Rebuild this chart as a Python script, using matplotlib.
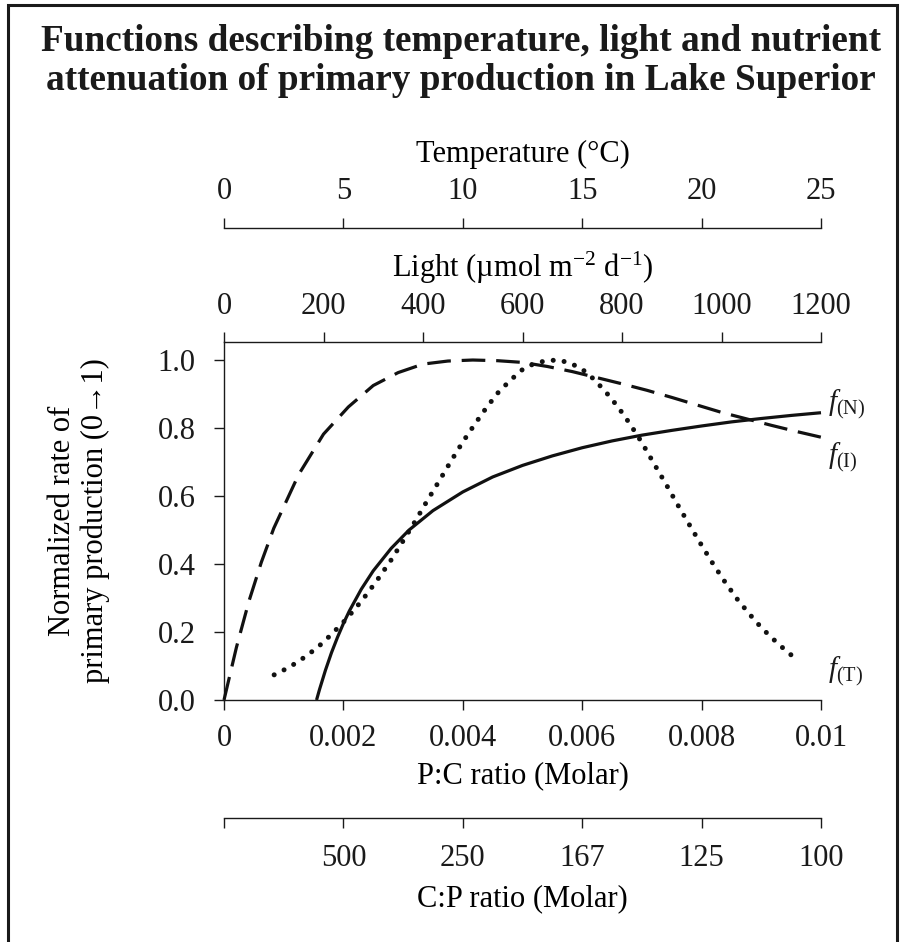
import matplotlib
matplotlib.use("Agg")
import matplotlib.pyplot as plt
from matplotlib.patches import Rectangle

plt.rcParams['font.family'] = ['Liberation Serif', 'DejaVu Serif']
plt.rcParams['font.size'] = 22
plt.rcParams['mathtext.fontset'] = 'custom'
plt.rcParams['mathtext.rm'] = 'Liberation Serif'
plt.rcParams['mathtext.it'] = 'Liberation Serif:italic'

# ---- data -------------------------------------------------------------
# nutrient limitation vs cell P:C quota (molar)
pc_ratio = [0.00155, 0.0016, 0.0017, 0.0018, 0.0019, 0.0020, 0.0021, 0.0023,
            0.0025, 0.0028, 0.0031, 0.0035, 0.0040, 0.0045, 0.0050, 0.0055,
            0.0060, 0.0065, 0.0070, 0.0075, 0.0080, 0.0085, 0.0090, 0.0095,
            0.0100]
f_nutrient = [0.000, 0.031, 0.088, 0.139, 0.184, 0.225, 0.262, 0.326,
              0.380, 0.446, 0.500, 0.557, 0.612, 0.656, 0.690, 0.718,
              0.742, 0.762, 0.779, 0.793, 0.806, 0.818, 0.828, 0.837,
              0.845]

# light limitation vs irradiance (umol m-2 d-1)
light = [0, 25, 50, 75, 100, 150, 200, 250, 300, 350, 400, 450, 500, 550,
         600, 650, 700, 750, 800, 850, 900, 950, 1000, 1050, 1100, 1150, 1200]
f_light = [0.000, 0.155, 0.290, 0.405, 0.505, 0.663, 0.782, 0.862, 0.925,
           0.963, 0.988, 0.997, 1.000, 0.998, 0.993, 0.981, 0.966, 0.948,
           0.930, 0.911, 0.890, 0.868, 0.846, 0.827, 0.808, 0.790, 0.773]

# temperature limitation vs water temperature (deg C)
temperature = [2.1, 2.5, 3.0, 3.5, 4.0, 4.5, 5.0, 5.5, 6.0, 6.5, 7.0, 7.5,
               8.0, 8.5, 9.0, 9.5, 10.0, 10.5, 11.0, 11.5, 12.0, 12.5, 13.0,
               13.5, 14.0, 14.5, 15.0, 15.5, 16.0, 16.5, 17.0, 17.5, 18.0,
               18.5, 19.0, 19.5, 20.0, 20.5, 21.0, 21.5, 22.0, 22.5, 23.0,
               23.5, 24.0]
f_temperature = [0.074, 0.088, 0.108, 0.132, 0.160, 0.193, 0.229, 0.269,
                 0.313, 0.361, 0.412, 0.468, 0.525, 0.585, 0.643, 0.702,
                 0.759, 0.811, 0.861, 0.906, 0.941, 0.972, 0.990, 0.998,
                 1.000, 0.991, 0.973, 0.943, 0.905, 0.862, 0.812, 0.757,
                 0.696, 0.636, 0.574, 0.514, 0.455, 0.398, 0.345, 0.296,
                 0.253, 0.213, 0.179, 0.147, 0.118]

# axis ticks
pc_ticks = [0, 0.002, 0.004, 0.006, 0.008, 0.01]
pc_labels = ['0', '0.002', '0.004', '0.006', '0.008', '0.01']
cp_labels = ['', '500', '250', '167', '125', '100']
light_ticks = [0, 200, 400, 600, 800, 1000, 1200]
temp_ticks = [0, 5, 10, 15, 20, 25]
y_ticks = [0.0, 0.2, 0.4, 0.6, 0.8, 1.0]

# ---- figure -----------------------------------------------------------
W, H = 906, 942
fig = plt.figure(figsize=(W / 100, H / 100), dpi=100)
fig.patches.append(Rectangle((8 / W, -0.02), (897 - 8) / W, (942 - 5) / H + 0.02,
                             transform=fig.transFigure, fill=False,
                             edgecolor='#1a1a1a', linewidth=2.2))

fig.text(461 / W, 1 - 61 / H,
         "Functions describing temperature, light and nutrient\n"
         "attenuation of primary production in Lake Superior",
         ha='center', va='center', fontsize=26.8, fontweight='bold',
         linespacing=1.13, color='#1a1a1a')

ax = fig.add_axes([224 / W, (H - 700) / H, 597 / W, 358 / H])
ax.set_xlim(0, 0.01)
ax.set_ylim(0, 1.053)
for s in ('top', 'right'):
    ax.spines[s].set_visible(False)
ax.set_xticks(pc_ticks, labels=pc_labels)
ax.set_yticks(y_ticks, labels=[f"{v:.1f}" for v in y_ticks])
ax.tick_params(axis='x', direction='out', length=7, width=1, pad=10)
ax.tick_params(axis='y', direction='out', length=7.5, width=1, pad=13)
ax.set_xlabel("P:C ratio (Molar)", labelpad=6)
ax.set_ylabel("Normalized rate of\nprimary production (0\u21921)", labelpad=34,
              linespacing=1.15)

# light axis on top of the plotting area
ax_l = ax.twiny()
ax_l.set_xlim(0, 1200)
for s in ('bottom', 'left', 'right'):
    ax_l.spines[s].set_visible(False)
ax_l.set_xticks(light_ticks)
ax_l.tick_params(axis='x', direction='out', length=7, width=1, pad=8)
ax_l.set_xlabel("Light (\u00b5mol m$^{\\mathrm{-2}}$ d$^{\\mathrm{-1}}$)", labelpad=11)

# temperature axis, offset above the light axis
ax_t = ax.twiny()
ax_t.set_xlim(0, 25)
for s in ('bottom', 'left', 'right'):
    ax_t.spines[s].set_visible(False)
ax_t.spines['top'].set_position(('outward', 82))
ax_t.set_xticks(temp_ticks)
ax_t.tick_params(axis='x', direction='out', length=7, width=1, pad=9)
ax_t.set_xlabel("Temperature (\u00b0C)", labelpad=11)

# C:P axis, offset below the P:C axis
ax_c = ax.twiny()
ax_c.set_xlim(0, 0.01)
for s in ('top', 'left', 'right'):
    ax_c.spines[s].set_visible(False)
ax_c.spines['bottom'].set_visible(True)
ax_c.xaxis.set_ticks_position('bottom')
ax_c.xaxis.set_label_position('bottom')
ax_c.spines['bottom'].set_position(('outward', 85))
ax_c.set_xticks(pc_ticks, labels=cp_labels)
ax_c.tick_params(axis='x', direction='out', length=7, width=1, pad=11.5)
ax_c.set_xlabel("C:P ratio (Molar)", labelpad=8)

for a in (ax, ax_l, ax_t, ax_c):
    for s in a.spines.values():
        s.set_linewidth(1.0)
        s.set_color('#1a1a1a')
    a.tick_params(colors='#1a1a1a')

# ---- curves -----------------------------------------------------------
ax.plot(pc_ratio, f_nutrient, color='#111111', lw=2.3, solid_capstyle='butt',
        clip_on=False)
ax_l.plot(light, f_light, color='#111111', lw=2.3, linestyle=(0, (7.4, 3.4)),
          dash_capstyle='butt', clip_on=False)
ax_t.plot(temperature, f_temperature, color='#111111', lw=3.6,
          linestyle=(0, (0.01, 2.2)), dash_capstyle='round', clip_on=False)

lab_kw = dict(fontsize=21, color='#1a1a1a', ha='left', va='center', clip_on=False)
ax.text(0.01012, 0.87, r'$f_{\mathrm{(N)}}$', **lab_kw)
ax.text(0.01012, 0.715, r'$f_{\mathrm{(I)}}$', **lab_kw)
ax.text(0.01012, 0.085, r'$f_{\mathrm{(T)}}$', **lab_kw)

fig.savefig("out.png", dpi=100)
